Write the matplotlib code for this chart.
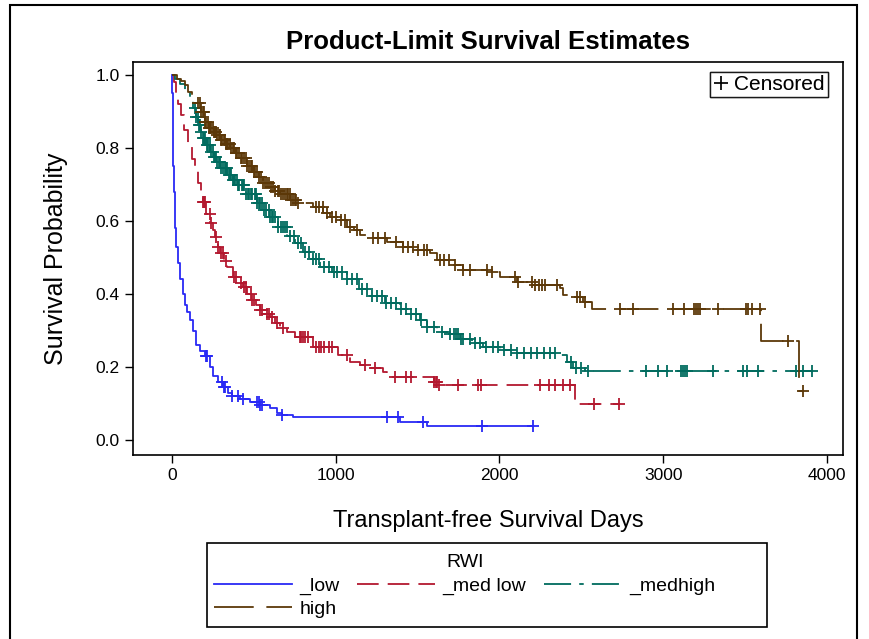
import numpy as np
import matplotlib.pyplot as plt
from matplotlib.lines import Line2D
from matplotlib.patches import Rectangle

plt.rcParams['font.family'] = ['Liberation Sans', 'DejaVu Sans']

# Kaplan-Meier step points (day, survival)
low_t = [0, 3, 6, 8, 12, 18, 25, 37, 50, 67, 80, 95, 110, 128, 147, 171, 200, 230, 250,
         280, 311, 340, 366, 415, 476, 537, 598, 640, 672, 740, 1390, 1560, 2205]
low_s = [1.0, 0.95, 0.85, 0.75, 0.68, 0.58, 0.53, 0.485, 0.44, 0.40, 0.37, 0.35, 0.33, 0.30,
         0.26, 0.245, 0.23, 0.20, 0.175, 0.16, 0.145, 0.13, 0.12, 0.113, 0.104, 0.096, 0.088,
         0.075, 0.068, 0.063, 0.05, 0.038, 0.038]
low_cens = [207, 212, 305, 318, 324, 366, 403, 434, 519, 530, 540, 550, 672, 1313, 1380,
            1533, 1893, 2205]

medlow_t = [0, 10, 25, 40, 55, 75, 98, 120, 140, 159, 175, 189, 210, 232, 250, 263, 280, 293,
            315, 336, 373, 400, 434, 460, 489, 515, 537, 570, 598, 630, 660, 700, 751, 861,
            1014, 1087, 1148, 1197, 1289, 1313, 1600, 1625, 2461, 2736]
medlow_s = [1.0, 0.98, 0.95, 0.92, 0.89, 0.85, 0.81, 0.77, 0.74, 0.705, 0.68, 0.652, 0.62,
            0.595, 0.575, 0.556, 0.53, 0.512, 0.49, 0.474, 0.447, 0.43, 0.419, 0.40, 0.384,
            0.37, 0.356, 0.345, 0.337, 0.32, 0.307, 0.295, 0.282, 0.255, 0.233, 0.214, 0.205,
            0.197, 0.186, 0.173, 0.16, 0.151, 0.10, 0.10]
medlow_cens = [190, 195, 200, 230, 240, 270, 280, 300, 310, 330, 380, 390, 420, 440, 450, 480,
               490, 500, 540, 550, 580, 590, 610, 640, 680, 780, 790, 800, 810, 830, 880, 900,
               910, 930, 960, 980, 1070, 1180, 1240, 1360, 1430, 1460, 1600, 1610, 1620, 1630,
               1750, 1870, 1890, 2250, 2300, 2340, 2390, 2430, 2580, 2730]

medhigh_t = [0, 20, 50, 80, 110, 128, 145, 159, 175, 189, 210, 232, 255, 275, 300, 336, 370,
             403, 450, 519, 560, 598, 650, 702, 750, 800, 850, 904, 980, 1069, 1140, 1209, 1300,
             1392, 1453, 1514, 1557, 1618, 1700, 1760, 1830, 1899, 2003, 2100, 2351, 2412, 2449,
             2520, 3920]
medhigh_s = [1.0, 0.99, 0.975, 0.96, 0.94, 0.91, 0.885, 0.863, 0.845, 0.827, 0.808, 0.789,
             0.775, 0.762, 0.745, 0.726, 0.712, 0.70, 0.675, 0.649, 0.63, 0.611, 0.585, 0.56,
             0.54, 0.515, 0.495, 0.474, 0.46, 0.44, 0.415, 0.395, 0.375, 0.36, 0.345, 0.33, 0.31,
             0.296, 0.29, 0.277, 0.265, 0.255, 0.247, 0.238, 0.233, 0.214, 0.197, 0.19, 0.19]
medhigh_cens = [140, 150, 158, 165, 172, 180, 190, 198, 205, 214, 222, 231, 240, 248, 255, 262,
                270, 278, 285, 295, 302, 310, 322, 330, 335, 348, 355, 360, 372, 380, 385, 398,
                405, 410, 425, 432, 440, 455, 462, 470, 480, 490, 505, 512, 520, 530, 540, 550,
                560, 575, 590, 600, 610, 620, 630, 650, 665, 680, 690, 700, 720, 745, 770, 790,
                810, 840, 860, 880, 900, 930, 960, 990, 1010, 1040, 1070, 1100, 1130, 1160,
                1190, 1220, 1250, 1280, 1310, 1340, 1370, 1400, 1430, 1460, 1490, 1520, 1560,
                1600, 1650, 1700, 1720, 1735, 1750, 1765, 1780, 1820, 1850, 1880, 1920, 1960,
                1990, 2030, 2070, 2110, 2150, 2190, 2230, 2270, 2310, 2340, 2440, 2470, 2500,
                2540, 2895, 2968, 3023, 3108, 3120, 3132, 3145, 3304, 3487, 3511, 3579, 3811,
                3853, 3908]

high_t = [0, 30, 55, 79, 100, 122, 153, 175, 201, 225, 250, 275, 300, 330, 354, 385, 415, 458,
          495, 530, 556, 598, 630, 660, 721, 763, 861, 922, 965, 1008, 1069, 1110, 1148, 1209,
          1313, 1411, 1472, 1576, 1618, 1716, 1777, 1942, 2003, 2107, 2205, 2370, 2388, 2449,
          2510, 2565, 3600, 3830, 3853]
high_s = [1.0, 0.99, 0.985, 0.973, 0.955, 0.94, 0.923, 0.90, 0.871, 0.855, 0.845, 0.836,
          0.822, 0.81, 0.80, 0.786, 0.773, 0.75, 0.734, 0.72, 0.705, 0.693, 0.682, 0.675, 0.658,
          0.649, 0.638, 0.622, 0.611, 0.603, 0.584, 0.575, 0.562, 0.553, 0.542, 0.529, 0.52,
          0.512, 0.493, 0.479, 0.466, 0.46, 0.447, 0.433, 0.425, 0.416, 0.397, 0.392, 0.378,
          0.36, 0.27, 0.134, 0.134]
high_cens = [160, 170, 180, 188, 195, 203, 210, 218, 225, 232, 240, 248, 255, 262, 270, 278,
             285, 292, 300, 308, 315, 322, 330, 338, 345, 352, 360, 370, 380, 390, 400, 410,
             420, 430, 440, 450, 460, 470, 480, 490, 500, 510, 520, 532, 545, 558, 570, 582,
             595, 608, 620, 632, 645, 655, 665, 678, 690, 700, 710, 720, 730, 740, 750, 760,
             770, 880, 900, 920, 950, 975, 1000, 1030, 1060, 1090, 1130, 1230, 1260, 1300,
             1370, 1411, 1440, 1470, 1500, 1540, 1557, 1637, 1663, 1690, 1728, 1777, 1820, 1924,
             1954, 2095, 2113, 2198, 2220, 2240, 2260, 2278, 2351, 2473, 2490, 2522, 2736, 2815,
             3060, 3127, 3188, 3200, 3212, 3225, 3334, 3505, 3517, 3542, 3591, 3762, 3853]

groups = [
    ('_low', low_t, low_s, low_cens, '#2929F5', '-'),
    ('_med low', medlow_t, medlow_s, medlow_cens, '#B3182F', (0, (12, 5))),
    ('_medhigh', medhigh_t, medhigh_s, medhigh_cens, '#006B5E', (0, (15, 4.5, 2.5, 4.5))),
    ('high', high_t, high_s, high_cens, '#5C3808', (0, (22, 7))),
]

W, H = 869, 639
fig = plt.figure(figsize=(W / 100, H / 100), dpi=100)
ax = fig.add_axes([0.153, 0.288, 0.817, 0.615])

handles = {}
for name, t, s, cens, color, ls in groups:
    t = np.array(t)
    s = np.array(s)
    line, = ax.step(t, s, where='post', color=color, lw=1.3, linestyle=ls)
    idx = np.searchsorted(t, cens, side='right') - 1
    ax.plot(cens, s[idx], linestyle='none', marker='+', color=color, ms=9, mew=1.3)
    handles[name] = line

ax.set_xlim(-238, 4098)
ax.set_ylim(-0.041, 1.036)
ax.set_xticks([0, 1000, 2000, 3000, 4000])
ax.set_yticks([0.0, 0.2, 0.4, 0.6, 0.8, 1.0])
ax.set_yticklabels(['0.0', '0.2', '0.4', '0.6', '0.8', '1.0'])
ax.tick_params(labelsize=12.5, length=6, width=1)
for sp in ax.spines.values():
    sp.set_linewidth(1.2)
ax.set_xlabel('Transplant-free Survival Days', fontsize=17, labelpad=19)
ax.set_ylabel('Survival Probability', fontsize=18, labelpad=20)
ax.set_title('Product-Limit Survival Estimates', fontsize=18.5, fontweight='bold', pad=9)

cens_leg = ax.legend([Line2D([], [], ls='none', marker='+', color='black', ms=10, mew=1.2)],
                     ['Censored'], loc='upper right', fontsize=15, frameon=True,
                     fancybox=False, edgecolor='black', handlelength=0.7, handletextpad=0.3,
                     borderpad=0.15, borderaxespad=0,
                     bbox_to_anchor=(828 / W, 1 - 72 / H), bbox_transform=fig.transFigure)
cens_leg.get_frame().set_linewidth(1.0)
ax.add_artist(cens_leg)

order = ['_low', 'high', '_med low', '_medhigh']
leg = fig.legend([handles[k] for k in order], order, loc='upper left',
                 bbox_to_anchor=(210 / W, 1 - 550 / H), ncol=3, fontsize=14, title='RWI',
                 title_fontsize=14, frameon=False, borderpad=0.2, borderaxespad=0,
                 handlelength=4.0, handletextpad=0.4, columnspacing=0.9,
                 labelspacing=0.3)

# legend frame and outer graph border
fig.patches.append(Rectangle((207 / W, 1 - 627 / H), 560 / W, 84 / H,
                             transform=fig.transFigure, fill=False, edgecolor='black',
                             lw=1.2))
fig.patches.append(Rectangle((10 / W, -0.05), 847 / W, 1.05 - 5 / H,
                             transform=fig.transFigure, fill=False, edgecolor='black',
                             lw=1.5, clip_on=False))

fig.savefig('out.png', dpi=100)
